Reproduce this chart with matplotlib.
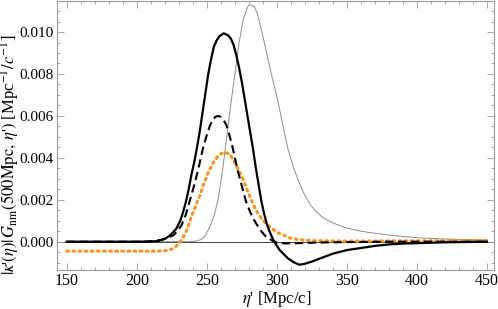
import matplotlib
matplotlib.use("Agg")
import matplotlib.pyplot as plt
from matplotlib.ticker import MultipleLocator, FormatStrFormatter

# ---- data ----
solid_eta = [150, 200, 210, 215, 220, 224, 228, 231, 233, 235, 237, 239, 241, 243, 245, 247, 249,
             251, 253, 255, 257, 259, 262, 265, 267, 269, 271, 273, 275, 277, 279, 281, 283, 285,
             287, 289, 291, 293, 295, 297, 299, 302, 305, 308, 312, 316, 320, 325, 330, 340, 350,
             360, 370, 380, 390, 400, 420, 450]
solid_val = [0, 0, 0.00001, 0.00003, 0.00013, 0.00032, 0.0006, 0.0010, 0.0014, 0.0019, 0.0025,
             0.0032, 0.0038, 0.0045, 0.0053, 0.0062, 0.0071, 0.0080, 0.0087, 0.0093, 0.0096,
             0.0098, 0.00994, 0.00985, 0.0097, 0.0094, 0.0089, 0.0083, 0.0076, 0.0068, 0.0060,
             0.0052, 0.0044, 0.0035, 0.0027, 0.0019, 0.0013, 0.0008, 0.00045, 0.00015, -0.0001,
             -0.0004, -0.0006, -0.0008, -0.00098, -0.0011, -0.00105, -0.00095, -0.00082,
             -0.00057, -0.00040, -0.00030, -0.00020, -0.00013, -0.00009, -0.00007, -0.00003, 0.0]

dashed_eta = [150, 205, 212, 218, 222, 226, 229, 232, 235, 238, 241, 244, 247, 250, 252, 254, 256,
              258, 260, 262, 264, 266, 268, 270, 272, 274, 276, 278, 281, 284, 288, 292, 296, 300,
              305, 310, 320, 330, 350, 380, 450]
dashed_val = [0, 0, 0.00003, 0.0001, 0.0002, 0.0003, 0.0005, 0.0008, 0.0013, 0.0020, 0.0027,
              0.0035, 0.0044, 0.0051, 0.0055, 0.0058, 0.00595, 0.0060, 0.00595, 0.0058, 0.00555,
              0.0051, 0.0046, 0.0040, 0.0034, 0.0029, 0.0024, 0.0019, 0.0014, 0.0010, 0.00057,
              0.00025, 0.00008, -0.00005, -0.00008, -0.00008, -0.00006, -0.00004, -0.00002,
              0.0, 0.0]

orange_eta = [150, 215, 220, 224, 227, 230, 233, 236, 239, 242, 245, 248, 251, 254, 257, 260, 263,
              266, 269, 272, 275, 278, 281, 285, 289, 293, 297, 300, 305, 309, 315, 325, 350, 400, 450]
orange_val = [-0.00045, -0.00045, -0.00043, -0.00038, -0.00028, -0.0001, 0.0002, 0.0006, 0.0012,
              0.0017, 0.0022, 0.0028, 0.0033, 0.0037, 0.0040, 0.0042, 0.00425, 0.0042, 0.0039,
              0.0035, 0.0031, 0.0026, 0.0021, 0.0015, 0.0011, 0.0008, 0.0006, 0.00045, 0.0003,
              0.00018, 0.0001, 0.00005, 0.00003, 0.00004, 0.00006]

gray_eta = [150, 238, 242, 246, 249, 252, 255, 258, 261, 264, 267, 270, 273, 276, 278, 279.5, 281,
            282.5, 284, 286, 288, 290, 293, 296, 299, 302, 305, 308, 312, 316, 320, 324, 328, 332,
            336, 340, 345, 350, 360, 370, 380, 390, 400, 415, 430, 450]
gray_val = [0, 0, 0.00003, 0.0001, 0.0003, 0.0007, 0.0012, 0.0020, 0.0033, 0.0049, 0.0065, 0.0080,
            0.0095, 0.0106, 0.0110, 0.01125, 0.0113, 0.01128, 0.0112, 0.0109, 0.01035, 0.0098,
            0.0089, 0.0080, 0.0072, 0.0063, 0.0053, 0.0044, 0.0035, 0.0028, 0.0022, 0.00175,
            0.00143, 0.00120, 0.00103, 0.00090, 0.00076, 0.00065, 0.00050, 0.00040, 0.00032,
            0.00025, 0.00019, 0.00014, 0.00011, 0.00008]

x_ticks = [150, 200, 250, 300, 350, 400, 450]
y_ticks = [0.000, 0.002, 0.004, 0.006, 0.008, 0.010]

plt.rcParams['font.family'] = ['Liberation Serif', 'DejaVu Serif']
plt.rcParams['mathtext.fontset'] = 'stix'

fig = plt.figure(figsize=(4.98, 3.09), dpi=100)
ax = fig.add_axes([57/498, 1 - 270/309, (494 - 57)/498, (270 - 1)/309])

frame_col = '#9a9a9a'
ax.axhline(0, color='#404040', lw=0.7, zorder=1)
ax.plot(gray_eta, gray_val, color='#8c8c8c', lw=0.7, zorder=2)
ax.plot(orange_eta, orange_val, color='#f7931e', lw=2.2, linestyle=(0, (0.6, 1.4)),
        dash_capstyle='round', zorder=3)
ax.plot(dashed_eta, dashed_val, color='black', lw=1.5, linestyle=(0, (4, 2.2)), zorder=4)
ax.plot(solid_eta, solid_val, color='black', lw=1.6, zorder=5)

ax.set_xlim(143, 455)
ax.set_ylim(-0.00135, 0.01148)
ax.set_xticks(x_ticks)
ax.set_yticks(y_ticks)
ax.xaxis.set_minor_locator(MultipleLocator(10))
ax.yaxis.set_minor_locator(MultipleLocator(0.0005))
ax.yaxis.set_major_formatter(FormatStrFormatter('%.3f'))

for s in ax.spines.values():
    s.set_color(frame_col)
    s.set_linewidth(0.8)
ax.tick_params(which='both', direction='in', top=True, right=True, color=frame_col,
               labelsize=11.5, width=0.6)
ax.tick_params(axis='y', which='major', labelsize=11)
ax.tick_params(which='major', length=5, pad=2.5)
ax.tick_params(which='minor', length=2.5)

fig.text(10.5/498, 1 - 155/309,
         r"$|\kappa$'$(\eta)|\,G_{\rm nm}(500{\rm Mpc},\,\eta$'$)$ [Mpc$^{-1}/c^{-1}$]",
         rotation=90, ha='center', va='center', fontsize=12)
fig.text(277/498, 1 - 299/309, r"$\eta$' [Mpc/c]", ha='center', va='center', fontsize=12)

fig.savefig('out.png', dpi=100)
